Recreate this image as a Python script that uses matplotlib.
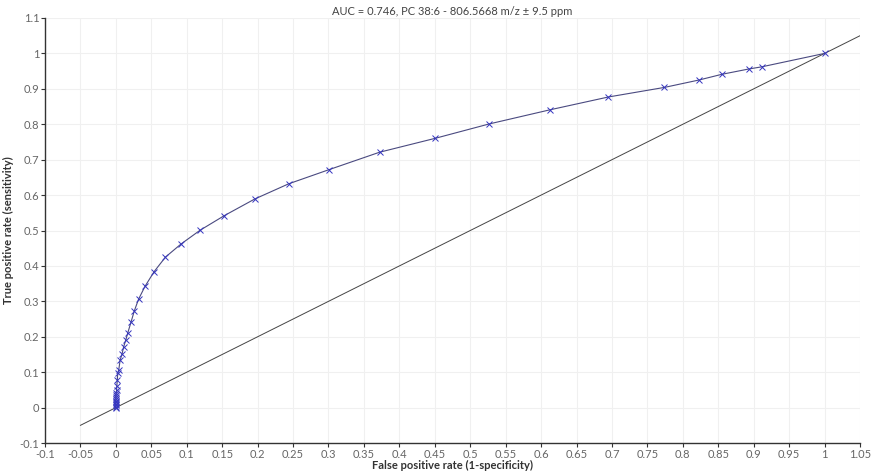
import numpy as np
import matplotlib
matplotlib.use("Agg")
import matplotlib.pyplot as plt
from matplotlib.ticker import FuncFormatter, MultipleLocator

# ROC points (false positive rate, true positive rate)
fpr = [0.0, 0.0, 0.0, 0.0, 0.0, 0.0, 0.0, 0.0, 0.0, 0.0005, 0.001, 0.0013,
       0.002, 0.0027, 0.004, 0.006, 0.0085, 0.011, 0.014, 0.0168, 0.0216,
       0.026, 0.032, 0.041, 0.054, 0.070, 0.092, 0.119, 0.153, 0.196,
       0.244, 0.301, 0.372, 0.450, 0.527, 0.613, 0.695, 0.774, 0.823,
       0.855, 0.893, 0.911, 1.0]
tpr = [0.0, 0.003, 0.006, 0.01, 0.015, 0.02, 0.025, 0.03, 0.035, 0.04, 0.05,
       0.06, 0.078, 0.097, 0.106, 0.134, 0.15, 0.172, 0.191, 0.211, 0.243,
       0.273, 0.306, 0.342, 0.384, 0.425, 0.462, 0.501, 0.542, 0.589,
       0.632, 0.672, 0.721, 0.760, 0.801, 0.841, 0.877, 0.904, 0.925,
       0.941, 0.956, 0.962, 1.0]

diag = [-0.05, 1.05]

title = "AUC = 0.746, PC 38:6 - 806.5668 m/z \u00b1 9.5 ppm"

plt.rcParams['font.family'] = ['Lato', 'DejaVu Sans']

fig = plt.figure(figsize=(8.86, 4.71), dpi=100)
ax = fig.add_axes([0.0508, 0.0594, 0.9199, 0.9024])

ax.plot(diag, diag, color='#444444', linewidth=0.7, zorder=2)
ax.plot(fpr, tpr, color='#4a4a80', linewidth=0.8, zorder=3)
ax.plot(fpr, tpr, linestyle='none', marker='x', markersize=4,
        markeredgewidth=0.7, color='#3535c0', zorder=4)

ax.set_xlim(-0.1, 1.05)
ax.set_ylim(-0.1, 1.1)
ax.xaxis.set_major_locator(MultipleLocator(0.05))
ax.yaxis.set_major_locator(MultipleLocator(0.1))
fmt = FuncFormatter(lambda v, p: '%g' % round(v, 2))
ax.xaxis.set_major_formatter(fmt)
ax.yaxis.set_major_formatter(fmt)

ax.grid(True, color='#f0f0f0', linewidth=0.8)
ax.set_axisbelow(True)
for s in ['top', 'right']:
    ax.spines[s].set_visible(False)
for s in ['left', 'bottom']:
    ax.spines[s].set_color('#333333')
    ax.spines[s].set_linewidth(1.0)

ax.tick_params(axis='both', length=3, width=0.8, color='#333333',
               labelsize=8, labelcolor='#666666', pad=1)

ax.set_xlabel("False positive rate (1-specificity)", fontsize=8,
              fontweight='bold', color='#333333', labelpad=0)
ax.set_ylabel("True positive rate (sensitivity)", fontsize=8,
              fontweight='bold', color='#333333', labelpad=4)
ax.set_title(title, fontsize=8, color='#444444', pad=2)

fig.savefig("out.png", dpi=100, facecolor='white')
